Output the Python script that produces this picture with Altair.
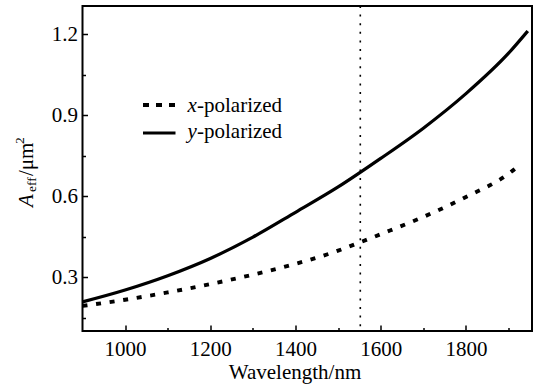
import altair as alt
import pandas as pd

# ---- data ----
wavelength_x = [900, 1000, 1100, 1200, 1300, 1400, 1500, 1550, 1600, 1700, 1800, 1900, 1928]
aeff_x = [0.193, 0.216, 0.243, 0.274, 0.309, 0.349, 0.398, 0.428, 0.459, 0.523, 0.597, 0.683, 0.718]

wavelength_y = [900, 1000, 1100, 1200, 1300, 1400, 1500, 1600, 1700, 1800, 1900, 1945]
aeff_y = [0.208, 0.252, 0.305, 0.369, 0.448, 0.540, 0.634, 0.740, 0.852, 0.980, 1.130, 1.212]

series_names = ["x-polarized", "y-polarized"]
marker_wavelength = [1552]

x_major_ticks = [1000, 1200, 1400, 1600, 1800]
x_minor_ticks = [1100, 1300, 1500, 1700, 1900]
y_major_ticks = [0.3, 0.6, 0.9, 1.2]
y_minor_ticks = [0.15, 0.45, 0.75, 1.05]

x_domain = [900, 1955]
y_domain = [0.1, 1.305]

FONT = "Liberation Serif"

df_x = pd.DataFrame({"wl": wavelength_x, "aeff": aeff_x})
df_y = pd.DataFrame({"wl": wavelength_y, "aeff": aeff_y})
df_mark = pd.DataFrame({"wl": marker_wavelength})

xscale = alt.Scale(domain=x_domain, nice=False, zero=False)
yscale = alt.Scale(domain=y_domain, nice=False, zero=False)

major_x_axis = alt.Axis(
    orient="bottom", values=x_major_ticks, format="d", grid=False, domain=False,
    tickSize=6, offset=-6, tickWidth=1.5, tickColor="black",
    labelFont=FONT, labelFontSize=21, labelColor="black", labelPadding=7,
    title="Wavelength/nm", titleFont=FONT, titleFontSize=21, titleFontWeight="normal",
    titleColor="black", titlePadding=2, titleX=212,
)
major_y_axis = alt.Axis(
    orient="left", values=y_major_ticks, format=".1f", grid=False, domain=False,
    tickSize=5, offset=-5, tickWidth=1.5, tickColor="black",
    labelFont=FONT, labelFontSize=21, labelColor="black", labelPadding=5,
    title=None,
)
minor_x_axis = alt.Axis(
    orient="bottom", values=x_minor_ticks, grid=False, domain=False, labels=False,
    tickSize=3.5, offset=-3.5, tickWidth=1.5, tickColor="black", title=None,
)
minor_y_axis = alt.Axis(
    orient="left", values=y_minor_ticks, grid=False, domain=False, labels=False,
    tickSize=3, offset=-3, tickWidth=1.5, tickColor="black", title=None,
)

line_y = alt.Chart(df_y).mark_line(color="black", strokeWidth=3.2, interpolate="monotone").encode(
    x=alt.X("wl:Q", scale=xscale, axis=major_x_axis),
    y=alt.Y("aeff:Q", scale=yscale, axis=major_y_axis),
)
line_x = alt.Chart(df_x).mark_line(
    color="black", strokeWidth=3.9, strokeDash=[5, 8.7], interpolate="monotone"
).encode(
    x=alt.X("wl:Q", scale=xscale, axis=minor_x_axis),
    y=alt.Y("aeff:Q", scale=yscale, axis=minor_y_axis),
)
vline = alt.Chart(df_mark).mark_rule(color="black", strokeWidth=1.6, strokeDash=[2, 6.6]).encode(
    x=alt.X("wl:Q", scale=xscale, axis=None),
)

# ---- legend (drawn by hand for the italic x / y) ----
leg_x_df = pd.DataFrame({"name": [series_names[0]]})
leg_y_df = pd.DataFrame({"name": [series_names[1]]})

leg_x_line = alt.Chart(leg_x_df).mark_rule(color="black", strokeWidth=3.9, strokeDash=[6, 7]).encode(
    x=alt.value(60.5), x2=alt.value(93), y=alt.value(99)
)
leg_y_line = alt.Chart(leg_y_df).mark_rule(color="black", strokeWidth=3.2).encode(
    x=alt.value(60.5), x2=alt.value(93), y=alt.value(127)
)

def txt(df, text, x, y, size=21, style="normal", angle=0):
    return alt.Chart(df).mark_text(
        text=text, font=FONT, fontSize=size, fontStyle=style, color="black",
        align="left", baseline="alphabetic", angle=angle,
    ).encode(x=alt.value(x), y=alt.value(y))

leg_x_t1 = txt(leg_x_df, series_names[0][0], 105, 105.5, style="italic")
leg_x_t2 = txt(leg_x_df, series_names[0][1:], 114.5, 105.5)
leg_y_t1 = txt(leg_y_df, series_names[1][0], 105, 131.5, style="italic")
leg_y_t2 = txt(leg_y_df, series_names[1][1:], 114.5, 131.5)

# ---- y title: A_eff / um^2 ----
t_df = pd.DataFrame({"t": ["title"]})
yt_A = txt(t_df, "A", -50, 201, size=21, style="italic", angle=270)
yt_eff = txt(t_df, "eff", -47, 186, size=13.5, angle=270)
yt_um = txt(t_df, "/μm", -50, 170, size=21, angle=270)
yt_2 = txt(t_df, "2", -58.5, 138, size=13.5, angle=270)

chart = alt.layer(
    line_y, line_x, vline,
    leg_x_line, leg_y_line, leg_x_t1, leg_x_t2, leg_y_t1, leg_y_t2,
    yt_A, yt_eff, yt_um, yt_2,
).resolve_axis(x="independent", y="independent").properties(
    width=449.5, height=325,
    autosize="none",
    padding={"left": 82.5, "top": 6, "right": 5, "bottom": 54},
    background="white",
).configure_view(stroke="black", strokeWidth=2)

chart.save("out.html", embed_options={"renderer": "svg", "actions": False})
